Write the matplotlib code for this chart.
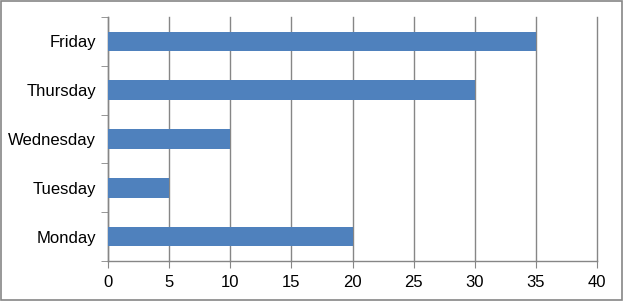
import numpy as np
import matplotlib.pyplot as plt
from matplotlib.patches import Rectangle

days = ["Monday", "Tuesday", "Wednesday", "Thursday", "Friday"]
values = [20, 5, 10, 30, 35]
xticks = [0, 5, 10, 15, 20, 25, 30, 35, 40]

plt.rcParams['font.family'] = ['Liberation Sans', 'DejaVu Sans']
gray = "#868686"

fig = plt.figure(figsize=(6.24, 3.02), dpi=100)
fig.patches.append(Rectangle((0.002, 0.008), 0.994, 0.988, transform=fig.transFigure,
                             fill=False, edgecolor=gray, linewidth=1.2))
ax = fig.add_axes([0.1731, 0.1358, 0.7837, 0.8079])

pos = np.arange(len(days))
ax.barh(pos, values, height=0.4, color="#4f81bd", zorder=3)

ax.set_xlim(0, 40)
ax.set_ylim(-0.5, len(days) - 0.5)
ax.set_xticks(xticks)
ax.set_yticks(pos)
ax.set_yticklabels(days)
ax.set_yticks(np.arange(-0.5, len(days), 1.0), minor=True)
ax.grid(axis="x", color=gray, linewidth=1, zorder=0)
for gl in ax.get_xgridlines():
    gl.set_clip_on(False)

for s in ["top", "right"]:
    ax.spines[s].set_visible(False)
for s in ["left", "bottom"]:
    ax.spines[s].set_color(gray)
    ax.spines[s].set_linewidth(1)

ax.tick_params(axis="y", which="major", length=0, pad=8.5, labelsize=12)
ax.tick_params(axis="y", which="minor", length=5, color=gray, direction="out")
ax.tick_params(axis="x", length=5, color=gray, direction="out", labelsize=12, pad=5)

fig.savefig("out.png", dpi=100)
